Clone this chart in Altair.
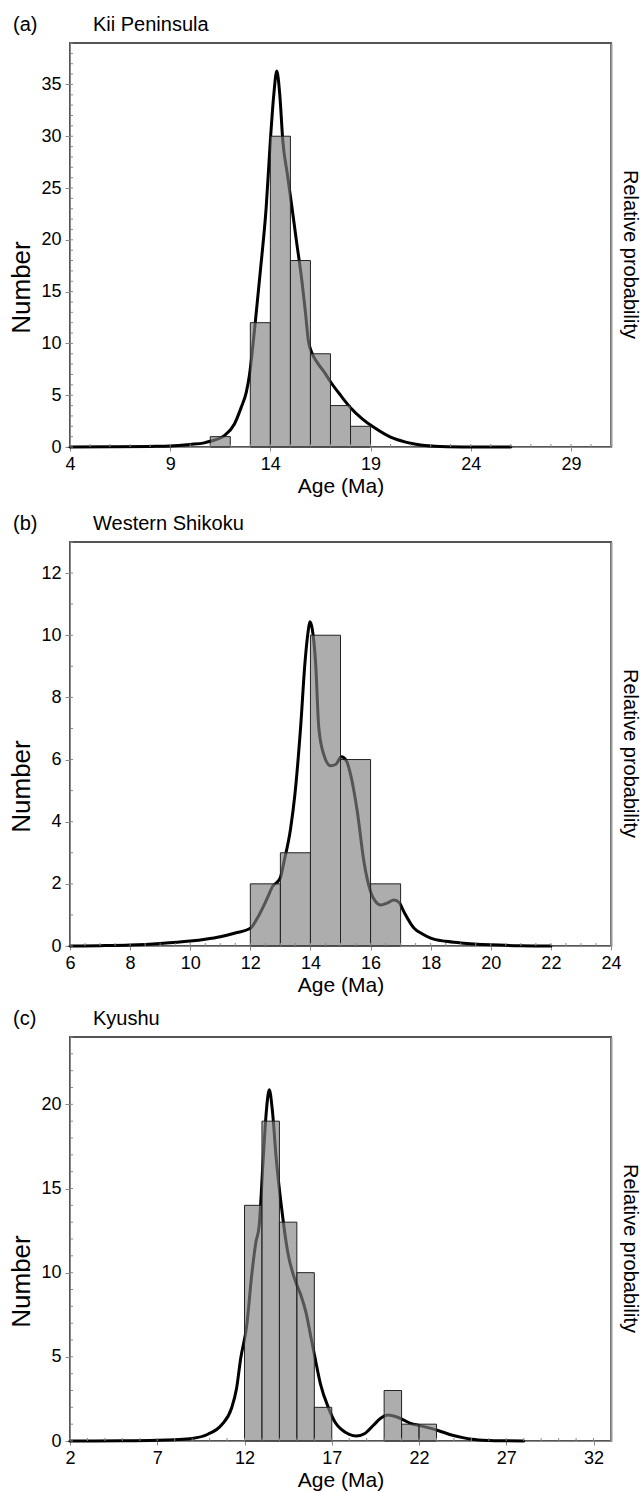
import altair as alt
import numpy as np
import pandas as pd

# ---------------- (a) Kii Peninsula ----------------
a_bin_start = [11, 13, 14, 15, 16, 17, 18]
a_counts = [1, 12, 30, 18, 9, 4, 2]
a_curve_age = [4, 6, 8, 9, 10, 10.7, 11.0, 11.7, 12.2, 12.54, 12.8, 12.96, 13.1, 13.24,
               13.5, 13.79, 14.0, 14.17, 14.32, 14.47, 14.62, 14.85, 15.08, 15.3, 15.53,
               15.75, 15.9, 16.05, 16.36, 16.7, 17.0, 17.5, 18.0, 18.6, 19.2, 20.0, 20.8,
               21.5, 22.5, 24, 26]
a_curve_val = [0, 0.02, 0.06, 0.1, 0.25, 0.4, 0.55, 1.1, 2.2, 3.8, 5.3, 7.0, 9.3, 11.9,
               17.0, 23.1, 29.6, 34.0, 36.3, 34.0, 29.6, 26.3, 23.1, 19.9, 16.7,
               13.0, 10.2, 9.2, 8.1, 7.2, 6.3, 5.0, 3.8, 2.7, 1.85, 0.95, 0.45,
               0.2, 0.06, 0.01, 0]
a_x_ticks = [4, 9, 14, 19, 24, 29]
a_y_ticks = [0, 5, 10, 15, 20, 25, 30, 35]

# ---------------- (b) Western Shikoku ----------------
b_bin_start = [12, 13, 14, 15, 16]
b_counts = [2, 3, 10, 6, 2]
b_curve_age = [6, 7, 8, 9, 10, 10.5, 11, 11.5, 12.0, 12.23, 12.56, 12.75, 12.9, 13.0,
               13.12, 13.34, 13.48, 13.67, 13.82, 13.92, 13.98, 14.06, 14.17, 14.28,
               14.45, 14.67, 14.85, 15.03, 15.2, 15.34, 15.56, 15.78, 16.0, 16.15, 16.34,
               16.55, 16.78, 16.95, 17.11, 17.45, 17.7, 18.0, 18.5, 19.0, 20, 21, 22]
b_curve_val = [0, 0.01, 0.03, 0.08, 0.16, 0.22, 0.3, 0.42, 0.57, 0.89, 1.53, 1.93, 2.06, 2.2,
               2.71, 3.78, 4.85, 7.0, 9.14, 10.1, 10.43, 10.2, 9.14, 7.0,
               6.14, 5.8, 5.85, 6.09, 5.95, 5.5, 4.32, 2.71, 1.75, 1.45, 1.32,
               1.38, 1.48, 1.4, 1.1, 0.57, 0.4, 0.25, 0.15, 0.1, 0.04, 0.01, 0]
b_x_ticks = [6, 8, 10, 12, 14, 16, 18, 20, 22, 24]
b_y_ticks = [0, 2, 4, 6, 8, 10, 12]

# ---------------- (c) Kyushu ----------------
c_bin_start = [12, 13, 14, 15, 16, 20, 21, 22]
c_counts = [14, 19, 13, 10, 2, 3, 1, 1]
c_curve_age = [2, 5, 7, 8, 9, 9.9, 10.68, 11.25, 11.54, 11.78, 12.13, 12.41, 12.65, 12.84,
               13.07, 13.26, 13.42, 13.59, 13.82, 14.13, 14.48, 14.95, 15.25, 15.53, 15.8,
               16.03, 16.35, 16.8, 17.2, 17.53, 18.0, 18.4, 18.9, 19.4, 19.8, 20.22, 20.69,
               21.1, 21.51, 22.1, 22.68, 23.3, 23.86, 24.5, 25.03, 26, 27, 28]
c_curve_val = [0, 0.01, 0.04, 0.08, 0.15, 0.4, 0.95, 1.93, 3.1, 4.9, 6.88, 9.84, 11.8, 12.8,
               16.75, 19.7, 20.87, 19.7, 16.75, 13.8, 11.2, 9.4, 8.6, 7.6, 6.2,
               5.0, 3.4, 2.0, 1.1, 0.7, 0.4, 0.3, 0.45, 0.95, 1.35, 1.54, 1.44,
               1.25, 1.05, 0.9, 0.75, 0.55, 0.36, 0.2, 0.1, 0.03, 0.01, 0]
c_x_ticks = [2, 7, 12, 17, 22, 27, 32]
c_y_ticks = [0, 5, 10, 15, 20]

W = 541
H = 404
FONT = "Liberation Sans"
AXIS_GREY = "#888888"


def panel(tag, region, starts, counts, ages, vals, xdom, ydom, xticks, yticks,
          xminor_step, yminor_step):
    bars = pd.DataFrame({"start": starts,
                         "end": [s + 1 for s in starts],
                         "count": counts})
    curve = pd.DataFrame({"age": ages, "p": vals})
    xminor = pd.DataFrame({"v": np.arange(xdom[0], xdom[1] + 1e-9, xminor_step)})
    yminor = pd.DataFrame({"v": np.arange(ydom[0], ydom[1] + 1e-9, yminor_step)})

    xs = alt.Scale(domain=xdom, nice=False, zero=False)
    ys = alt.Scale(domain=ydom, nice=False, zero=False)

    # one bottom axis shared by every layer that uses the age scale
    x_axis = alt.Axis(orient="bottom", values=xticks, title="Age (Ma)", grid=False,
                      tickSize=4, labelPadding=4, labelFlush=False, labelFontSize=18,
                      titleFontSize=21, titlePadding=2, titleFontWeight="normal",
                      domainColor=AXIS_GREY, tickColor=AXIS_GREY, labelColor="black",
                      titleColor="black")
    left_axis = alt.Axis(orient="left", values=yticks, title="Number", grid=False,
                         tickSize=5, labelPadding=4, labelFontSize=18, titleFontSize=26,
                         titleFontWeight="normal", titlePadding=6, titleY=H / 2 + 42,
                         domainColor=AXIS_GREY, tickColor=AXIS_GREY,
                         labelColor="black", titleColor="black")
    right_axis = alt.Axis(orient="right", labels=False, ticks=False, grid=False,
                          title="Relative probability", titleFontSize=20,
                          titleFontWeight="normal", titlePadding=8, titleY=H / 2 + 9,
                          domainColor="#999999", domainWidth=2, titleColor="black")

    # probability curve: drawn first so the translucent bars tint it grey
    line = alt.Chart(curve).mark_line(
        color="black", strokeWidth=3, interpolate="monotone",
        strokeCap="round", strokeJoin="round"
    ).encode(
        x=alt.X("age:Q", scale=xs, axis=x_axis),
        y=alt.Y("p:Q", scale=ys, axis=right_axis),
    )

    rects = alt.Chart(bars).mark_rect(
        fill="#828282", fillOpacity=0.655, stroke="#222222", strokeWidth=1
    ).encode(
        x=alt.X("start:Q", scale=xs, axis=x_axis),
        x2="end:Q",
        y=alt.Y("count:Q", scale=ys, axis=left_axis),
        y2=alt.datum(0),
    )

    # short inward ticks along both axes
    x_in = alt.Chart(xminor).mark_rule(color=AXIS_GREY, strokeWidth=1).encode(
        x=alt.X("v:Q", scale=xs, axis=x_axis),
        y=alt.value(H),
        y2=alt.value(H - 3),
    )
    y_in = alt.Chart(yminor).mark_rule(color=AXIS_GREY, strokeWidth=1).encode(
        y=alt.Y("v:Q", scale=ys, axis=None),
        x=alt.value(0),
        x2=alt.value(3),
    )

    tag_text = alt.Chart(pd.DataFrame({"t": [tag]})).mark_text(
        align="left", baseline="alphabetic", fontSize=20, font=FONT, color="black"
    ).encode(text="t:N", x=alt.value(-57), y=alt.value(-12))
    region_text = alt.Chart(pd.DataFrame({"t": [region]})).mark_text(
        align="left", baseline="alphabetic", fontSize=20, font=FONT, color="black"
    ).encode(text="t:N", x=alt.value(23), y=alt.value(-12))

    return alt.layer(line, rects, x_in, y_in, tag_text, region_text).resolve_axis(
        y="independent"
    ).properties(width=W, height=H)


pa = panel("(a)", "Kii Peninsula", a_bin_start, a_counts, a_curve_age, a_curve_val,
           [4, 31], [0, 39], a_x_ticks, a_y_ticks, 1, 1)
pb = panel("(b)", "Western Shikoku", b_bin_start, b_counts, b_curve_age, b_curve_val,
           [6, 24], [0, 13], b_x_ticks, b_y_ticks, 0.5, 1)
pc = panel("(c)", "Kyushu", c_bin_start, c_counts, c_curve_age, c_curve_val,
           [2, 33], [0, 24], c_x_ticks, c_y_ticks, 1, 1)

lower = alt.vconcat(pb, pc, spacing=91, bounds="flush")
chart = alt.vconcat(pa, lower, spacing=95, bounds="flush").properties(
    padding={"left": 7, "top": 14, "right": 0, "bottom": 0},
    background="white",
).configure(
    font=FONT,
).configure_view(
    stroke="#555555", strokeWidth=2
)

chart.save("out.html", embed_options={"renderer": "svg", "actions": False})
